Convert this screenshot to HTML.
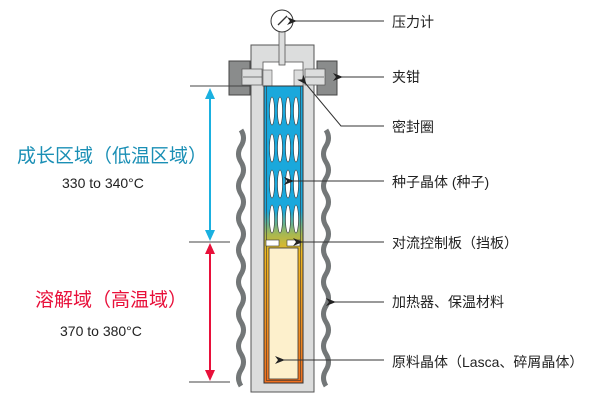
<!DOCTYPE html>
<html><head><meta charset="utf-8"><style>body{margin:0;background:#fff}svg{display:block}text{font-family:"Liberation Sans","Noto Sans CJK SC",sans-serif}</style></head><body>
<svg width="600" height="400" viewBox="0 0 600 400" xmlns="http://www.w3.org/2000/svg">
<defs>
<linearGradient id="g" x1="0" y1="0" x2="0" y2="1">
<stop offset="0" stop-color="#1aa8dc"/>
<stop offset="0.42" stop-color="#1aa8dc"/>
<stop offset="0.50" stop-color="#a8b850"/>
<stop offset="0.56" stop-color="#f0b820"/>
<stop offset="1" stop-color="#f07020"/>
</linearGradient>
<marker id="ah" markerWidth="10" markerHeight="8" refX="1" refY="4" orient="auto" markerUnits="userSpaceOnUse"><path d="M10,0 L0,4 L10,8 L7,4z" fill="#222"/></marker>
</defs>
<rect x="251" y="45" width="63" height="347" fill="#dcdddd" stroke="#555" stroke-width="1"/>
<rect x="263" y="62" width="40" height="24" fill="#fff" stroke="#555" stroke-width="0.8"/>
<rect x="263" y="70" width="9" height="16" fill="#dcdddd" stroke="#555" stroke-width="0.6"/>
<rect x="294" y="70" width="9" height="16" fill="#dcdddd" stroke="#555" stroke-width="0.6"/>
<rect x="229" y="61" width="21" height="34" fill="#8a8c8c" stroke="#444"/>
<rect x="317" y="61" width="20" height="34" fill="#8a8c8c" stroke="#444"/>
<rect x="242" y="69" width="20" height="16" fill="#dcdddd" stroke="#555" stroke-width="0.7"/>
<rect x="305" y="69" width="20" height="16" fill="#dcdddd" stroke="#555" stroke-width="0.7"/>
<line x1="243" y1="77" x2="262" y2="77" stroke="#555" stroke-width="0.7"/>
<line x1="305" y1="77" x2="324" y2="77" stroke="#555" stroke-width="0.7"/>
<rect x="279" y="30" width="6" height="35" fill="#dcdddd" stroke="#555" stroke-width="0.8"/>
<circle cx="282" cy="21" r="11" fill="#fff" stroke="#333" stroke-width="1"/>
<line x1="278" y1="25" x2="287" y2="16" stroke="#333" stroke-width="1.3"/>
<rect x="264" y="86" width="39" height="297" fill="url(#g)" stroke="#333" stroke-width="1"/>
<rect x="266.5" y="86" width="34" height="294.5" fill="none" stroke="#333" stroke-width="0.6"/>
<rect x="269" y="248" width="29" height="131" fill="#fdf0cc" stroke="#333" stroke-width="0.8"/>
<g fill="#fff" stroke="#333" stroke-width="0.6">
<ellipse cx="272" cy="111" rx="2.5" ry="14"/><ellipse cx="280" cy="111" rx="2.5" ry="14"/><ellipse cx="288" cy="111" rx="2.5" ry="14"/><ellipse cx="296" cy="111" rx="2.5" ry="14"/>
<ellipse cx="272" cy="148" rx="2.5" ry="14"/><ellipse cx="280" cy="148" rx="2.5" ry="14"/><ellipse cx="288" cy="148" rx="2.5" ry="14"/><ellipse cx="296" cy="148" rx="2.5" ry="14"/>
<ellipse cx="272" cy="184" rx="2.5" ry="14"/><ellipse cx="280" cy="184" rx="2.5" ry="14"/><ellipse cx="288" cy="184" rx="2.5" ry="14"/><ellipse cx="296" cy="184" rx="2.5" ry="14"/>
<ellipse cx="272" cy="219" rx="2.5" ry="14"/><ellipse cx="280" cy="219" rx="2.5" ry="14"/><ellipse cx="288" cy="219" rx="2.5" ry="14"/><ellipse cx="296" cy="219" rx="2.5" ry="14"/>
<rect x="266" y="240" width="13" height="6"/><rect x="287" y="240" width="13" height="6"/>
</g>
<path d="M241,130 q5,8 0,16 q-5,8 0,16 q5,8 0,16 q-5,8 0,16 q5,8 0,16 q-5,8 0,16 q5,8 0,16 q-5,8 0,16 q5,8 0,16 q-5,8 0,16 q5,8 0,16 q-5,8 0,16 q5,8 0,16 q-5,8 0,16 q5,8 0,16 q-5,8 0,16" fill="none" stroke="#737778" stroke-width="5"/>
<path d="M326,130 q5,8 0,16 q-5,8 0,16 q5,8 0,16 q-5,8 0,16 q5,8 0,16 q-5,8 0,16 q5,8 0,16 q-5,8 0,16 q5,8 0,16 q-5,8 0,16 q5,8 0,16 q-5,8 0,16 q5,8 0,16 q-5,8 0,16 q5,8 0,16 q-5,8 0,16" fill="none" stroke="#737778" stroke-width="5"/>
<g stroke="#444" stroke-width="1"><line x1="190" y1="86" x2="250" y2="86"/><line x1="189" y1="242" x2="230" y2="242"/><line x1="189" y1="382" x2="230" y2="382"/></g>
<line x1="210" y1="96" x2="210" y2="232" stroke="#1ab0e0" stroke-width="2"/>
<path d="M210,88 l-5,11 h10z" fill="#1ab0e0"/><path d="M210,241 l-5,-11 h10z" fill="#1ab0e0"/>
<line x1="210" y1="252" x2="210" y2="372" stroke="#e8103a" stroke-width="2"/>
<path d="M210,243 l-5,11 h10z" fill="#e8103a"/><path d="M210,381 l-5,-11 h10z" fill="#e8103a"/>
<g stroke="#333" stroke-width="1" fill="none">
<line x1="384" y1="21" x2="296" y2="21" marker-end="url(#ah)"/>
<line x1="384" y1="77" x2="342" y2="77" marker-end="url(#ah)"/>
<polyline points="384,126 341,126 306,84" marker-end="url(#ah)"/>
<line x1="384" y1="181" x2="293" y2="181" marker-end="url(#ah)"/>
<line x1="384" y1="242" x2="302" y2="242" marker-end="url(#ah)"/>
<line x1="384" y1="302" x2="335" y2="302" marker-end="url(#ah)"/>
<line x1="384" y1="360" x2="284" y2="360" marker-end="url(#ah)"/>
</g>
<g font-size="14" fill="#222">
<text x="392" y="27">压力计</text>
<text x="392" y="82">夹钳</text>
<text x="392" y="132">密封圈</text>
<text x="392" y="187">种子晶体 (种子)</text>
<text x="392" y="248">对流控制板（挡板）</text>
<text x="392" y="307">加热器、保温材料</text>
<text x="392" y="367">原料晶体（Lasca、碎屑晶体）</text>
</g>
<text x="17" y="162" font-size="19" fill="#1a8fb5">成长区域（低温区域）</text>
<text x="62" y="188" font-size="14" fill="#222">330 to 340°C</text>
<text x="35" y="306" font-size="19" fill="#e8103a">溶解域（高温域）</text>
<text x="60" y="336" font-size="14" fill="#222">370 to 380°C</text>
</svg>
</body></html>
